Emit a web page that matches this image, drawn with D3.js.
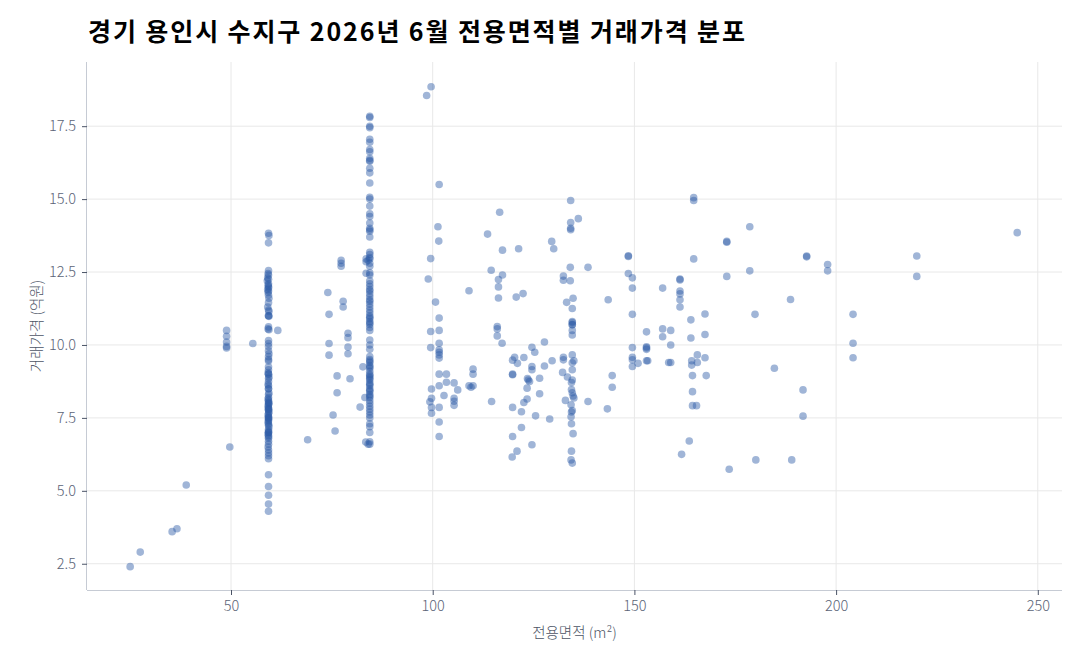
<!DOCTYPE html>
<html><head><meta charset="utf-8">
<script src="https://cdn.jsdelivr.net/npm/d3@7"></script>
<style>
html,body{margin:0;padding:0;background:#fff;}
svg{display:block;}
text{font-family:"Noto Sans CJK KR","Noto Sans",sans-serif;}
</style></head>
<body>
<svg id="chart" width="1080" height="660"></svg>
<script>
const title = "경기 용인시 수지구 2026년 6월 전용면적별 거래가격 분포";
const xLabel = "전용면적 (m²)";
const yLabel = "거래가격 (억원)";
const xTicks = [50, 100, 150, 200, 250];
const yTicks = [2.5, 5.0, 7.5, 10.0, 12.5, 15.0, 17.5];

// [전용면적, 거래가격(억원)] — 59㎡대 단지
const col59 = [
[59.3,13.83],[59.4,13.75],[59.3,13.5],
[59.3,12.55],[59.2,12.45],[59.3,12.4],[59.1,12.3],[59.3,12.25],[59.0,12.2],[59.3,12.1],[59.2,12.05],[59.3,12.0],[59.3,11.95],[59.1,11.9],[59.3,11.85],[59.2,11.8],[59.3,11.7],[59.4,11.6],[59.3,11.45],[59.1,11.3],[59.3,11.2],[59.4,11.15],
[59.3,11.0],[59.4,10.98],[59.3,11.0],[59.3,10.62],[59.2,10.55],[59.4,10.52],
[59.3,10.15],[59.3,10.05],[59.3,9.95],[59.3,9.8],[59.4,9.7],[59.3,9.6],[59.3,9.5],[59.3,9.45],
[59.3,9.25],[59.3,9.15],[59.2,9.05],[59.3,9.0],[59.3,9.0],[59.4,8.9],[59.3,8.85],[59.3,8.75],[59.2,8.65],[59.3,8.6],[59.3,8.5],[59.3,8.5],[59.4,8.35],[59.3,8.3],[59.3,8.2],[59.2,8.15],[59.3,8.1],[59.3,8.05],[59.4,8.0],[59.3,8.0],[59.3,7.95],[59.2,7.9],[59.3,7.85],[59.3,7.8],[59.3,7.8],[59.3,7.75],[59.4,7.7],[59.3,7.65],[59.2,7.6],[59.3,7.55],[59.3,7.5],[59.3,7.5],[59.3,7.45],[59.3,7.4],[59.2,7.35],[59.3,7.3],[59.3,7.25],[59.4,7.2],[59.3,7.1],[59.3,7.05],[59.3,7.0],[59.3,7.0],[59.2,6.95],[59.3,6.9],[59.3,6.85],[59.3,6.8],[59.3,6.7],[59.3,6.6],[59.2,6.5],[59.3,6.4],[59.3,6.3],[59.3,6.2],[59.3,6.1],
[59.3,5.55],[59.3,5.15],[59.3,4.85],[59.3,4.55],[59.3,4.3]
];

// 84㎡대 단지
const col84 = [
[84.4,17.84],[84.4,17.8],[84.4,17.5],[84.4,17.45],[84.4,17.05],[84.4,16.95],[84.4,16.7],[84.4,16.62],[84.4,16.4],[84.4,16.33],[84.4,16.3],[84.4,16.06],[84.4,15.9],[84.4,15.55],[84.4,15.06],[84.4,15.0],[84.4,14.76],[84.4,14.5],[84.4,14.4],[84.4,14.18],[84.4,14.0],[84.4,13.95],[84.4,13.9],[84.4,13.7],[84.4,13.18],[84.4,13.1],[84.4,13.0],[84.4,12.95],[84.0,12.9],[84.4,12.8],[84.4,12.7],[84.4,12.47],[84.4,12.4],
[84.4,12.2],[84.4,12.1],[84.4,12.0],[84.4,11.9],[84.4,11.85],[84.4,11.75],[84.4,11.65],[84.4,11.55],[84.4,11.5],[84.4,11.4],[84.4,11.3],[84.4,11.2],[84.4,11.1],[84.4,11.0],[84.4,10.95],[84.4,10.9],[84.4,10.8],[84.4,10.75],[84.4,10.7],[84.4,10.6],[84.4,10.5],
[84.4,10.17],[84.4,10.0],[84.4,9.85],
[84.4,9.6],[84.4,9.5],[84.4,9.45],[84.4,9.4],[84.4,9.3],[84.4,9.25],[84.4,9.2],[84.4,9.1],[84.4,9.0],[84.4,8.95],[84.4,8.9],[84.4,8.85],[84.4,8.8],[84.4,8.7],[84.4,8.65],[84.4,8.6],[84.4,8.5],[84.4,8.45],[84.4,8.4],[84.4,8.3],[84.4,8.25],[84.4,8.2],
[84.4,8.1],[84.4,8.0],[84.4,7.9],[84.4,7.8],[84.4,7.7],[84.4,7.6],[84.4,7.5],
[84.4,7.3],[84.4,7.2],[84.4,7.0],[84.4,6.68],[84.4,6.6]
];

// 그 외 면적
const others = [
[25.0,2.4],[27.5,2.9],[35.4,3.6],[36.6,3.7],[38.9,5.2],
[48.9,10.5],[48.9,10.3],[48.9,10.1],[48.9,9.95],[48.9,9.9],[49.7,6.5],[55.4,10.05],[61.6,10.5],[69.0,6.75],
[74.0,11.8],[74.3,11.05],[77.3,12.9],[77.3,12.8],[77.3,12.7],[77.8,11.5],[77.8,11.3],[74.3,10.05],[74.3,9.65],[79.0,10.4],[79.0,10.25],[79.0,9.93],[79.0,9.7],[76.3,8.94],[76.3,8.36],[79.5,8.84],[75.3,7.6],[75.8,7.05],[82.0,7.87],[82.7,9.25],[83.2,8.2],[83.4,6.67],[84.0,6.6],[83.5,12.95],[83.5,12.85],[83.5,12.46],
[99.6,18.85],[98.5,18.55],[101.6,15.5],[101.3,14.05],[101.5,13.56],[99.5,12.96],[98.9,12.26],[100.7,11.47],[101.6,10.92],[109.0,11.86],[113.6,13.8],[116.6,14.55],[117.3,13.25],[121.3,13.3],[114.5,12.56],[117.3,12.4],[116.3,12.24],[116.3,11.99],[116.3,11.61],[120.7,11.64],[122.4,11.76],[129.5,13.55],[130.0,13.3],[134.2,14.95],[134.2,14.2],[134.2,14.0],[134.2,13.95],[136.1,14.33],[134.1,12.66],[138.5,12.66],[132.4,12.36],[132.4,12.22],[134.1,12.2],[133.2,11.46],[134.8,11.6],[134.6,11.25],[134.6,10.8],[134.6,10.7],[134.6,10.5],[143.5,11.55],[148.5,13.06],[148.5,13.03],[148.5,12.45],[149.5,12.3],[149.5,11.95],[149.5,11.05],[157.0,11.95],[161.3,12.26],[161.3,12.23],[161.3,11.85],[161.3,11.75],[161.3,11.55],[161.3,11.3],[164.0,10.86],[167.5,11.06],[164.7,15.05],[164.7,14.95],[164.7,12.95],[153.0,10.45],[157.0,10.55],[159.0,10.5],
[99.5,10.46],[101.6,10.5],[99.5,9.91],[101.6,10.06],[101.6,9.83],[101.6,9.75],[101.6,9.66],[101.6,9.55],[101.6,9.0],[103.4,9.0],[101.6,8.6],[103.4,8.72],[105.3,8.7],[106.2,8.46],[99.7,8.49],[102.8,8.27],[105.3,8.17],[105.3,8.07],[105.3,7.93],[99.7,8.17],[99.3,8.05],[99.7,7.86],[99.7,7.66],[101.6,7.86],[101.6,7.36],[101.6,6.86],
[109.0,8.6],[109.5,8.55],[110.0,8.6],[110.0,9.17],[110.0,9.0],[114.6,8.06],[116.0,10.63],[116.0,10.55],[116.0,10.31],[117.2,10.06],[119.8,9.48],[120.3,9.58],[121.0,9.37],[119.8,9.0],[119.8,8.98],[122.6,9.57],[124.6,9.92],[125.3,9.75],[124.6,9.26],[124.6,9.15],[123.7,8.8],[124.0,8.75],[123.5,8.85],[126.5,8.86],[123.4,8.52],[126.5,8.33],[127.7,9.28],[127.7,10.1],[129.6,9.46],[119.8,7.86],[122.0,7.71],[122.6,8.03],[123.4,8.15],[125.5,7.57],[129.0,7.46],[122.0,7.17],[119.8,6.86],[124.6,6.58],[120.9,6.36],[119.7,6.16],
[134.6,10.77],[134.6,10.69],[134.6,10.34],[134.6,9.66],[134.6,9.39],[135.0,9.46],[134.6,9.15],[132.4,9.58],[132.4,9.49],[132.2,9.06],[133.4,8.9],[134.6,8.8],[134.4,8.71],[134.4,8.47],[134.6,8.36],[134.8,8.25],[135.0,8.18],[132.9,8.1],[134.3,7.95],[134.6,7.75],[134.4,7.7],[134.3,7.54],[134.4,7.3],[134.8,6.96],[134.4,6.36],[134.3,6.06],[134.6,5.95],
[138.5,8.06],[143.3,7.81],[144.5,8.95],[144.5,8.55],
[149.5,9.91],[149.5,9.58],[149.5,9.49],[149.5,9.26],[150.9,9.37],[153.0,9.94],[153.0,9.85],[153.0,9.9],[153.0,9.46],[153.3,9.46],[157.0,10.28],[159.0,10.0],[158.5,9.4],[159.0,9.4],
[164.0,10.24],[167.5,10.36],[165.6,9.66],[164.2,9.46],[164.2,9.31],[167.5,9.56],[165.6,9.4],[164.4,8.95],[167.8,8.95],[164.4,8.4],[164.4,7.92],[165.4,7.92],[163.6,6.71],[161.7,6.25],
[178.6,14.05],[172.9,13.55],[172.9,13.52],[192.7,13.05],[192.7,13.02],[197.9,12.76],[197.9,12.54],[220.0,13.05],[220.0,12.35],[244.9,13.85],[172.9,12.35],[178.6,12.54],[188.7,11.56],[179.9,11.05],[204.2,11.05],[204.2,10.06],[204.2,9.56],[184.7,9.2],[191.8,8.46],[191.8,7.56],[173.5,5.74],[180.1,6.06],[189.0,6.06]
];

const points = col59.concat(col84, others);

const svg = d3.select("#chart");
const L = 87, R = 1062, T = 62, B = 590;
const x = d3.scaleLinear().domain([14.3, 256]).range([L, R]);
const y = d3.scaleLinear().domain([1.6, 19.7]).range([B, T]);

// grid
const grid = svg.append("g");
grid.selectAll("line.v").data(xTicks).join("line")
  .attr("x1", d => x(d)).attr("x2", d => x(d)).attr("y1", T).attr("y2", B)
  .attr("stroke", "#e8e8e8").attr("stroke-width", 1);
grid.selectAll("line.h").data(yTicks).join("line")
  .attr("x1", L).attr("x2", R).attr("y1", d => y(d)).attr("y2", d => y(d))
  .attr("stroke", "#e8e8e8").attr("stroke-width", 1);

// axes
const xAxis = d3.axisBottom(x).tickValues(xTicks).tickFormat(d3.format("d")).tickSizeInner(5).tickSizeOuter(0).tickPadding(6);
const yAxis = d3.axisLeft(y).tickValues(yTicks).tickFormat(d3.format(".1f")).tickSizeInner(5).tickSizeOuter(0).tickPadding(6);
const gx = svg.append("g").attr("transform", `translate(0,${B})`).call(xAxis);
const gy = svg.append("g").attr("transform", `translate(${L},0)`).call(yAxis);
[gx, gy].forEach(g => {
  g.select(".domain").attr("stroke", "#c6cbd4");
  g.selectAll(".tick line").attr("stroke", "#4a5366");
  g.selectAll(".tick text").attr("fill", "#5b6477").style("font-size", "14.5px").style("font-weight", "300")
    .style("font-family", '"Noto Sans CJK KR","Noto Sans",sans-serif');
});
gx.select(".domain").attr("d", `M${L},0.5H${R}`);
gy.select(".domain").attr("d", `M-0.5,${T}V${B}`);

// points
svg.append("g").selectAll("circle").data(points).join("circle")
  .attr("cx", d => x(d[0])).attr("cy", d => y(d[1])).attr("r", 3.8)
  .attr("fill", "#2c5ba7").attr("fill-opacity", 0.45);

// labels
svg.append("text").attr("x", (L + R) / 2).attr("y", 638).attr("text-anchor", "middle")
  .attr("fill", "#4d5566").style("font-size", "14.5px").style("font-weight", "300").text(xLabel);
svg.append("text").attr("transform", `translate(42,${(T + B) / 2}) rotate(-90)`).attr("text-anchor", "middle")
  .attr("fill", "#4d5566").style("font-size", "14.5px").style("font-weight", "300").text(yLabel);
const t = svg.append("text").attr("x", 88).attr("y", 41).attr("fill", "#000")
  .style("font-size", "25px").style("font-weight", "700").text(title);
const tl = t.node().getComputedTextLength();
const chars = Array.from(title).length;
t.style("letter-spacing", ((657 - tl) / (chars - 1)) + "px");
</script>
</body></html>
